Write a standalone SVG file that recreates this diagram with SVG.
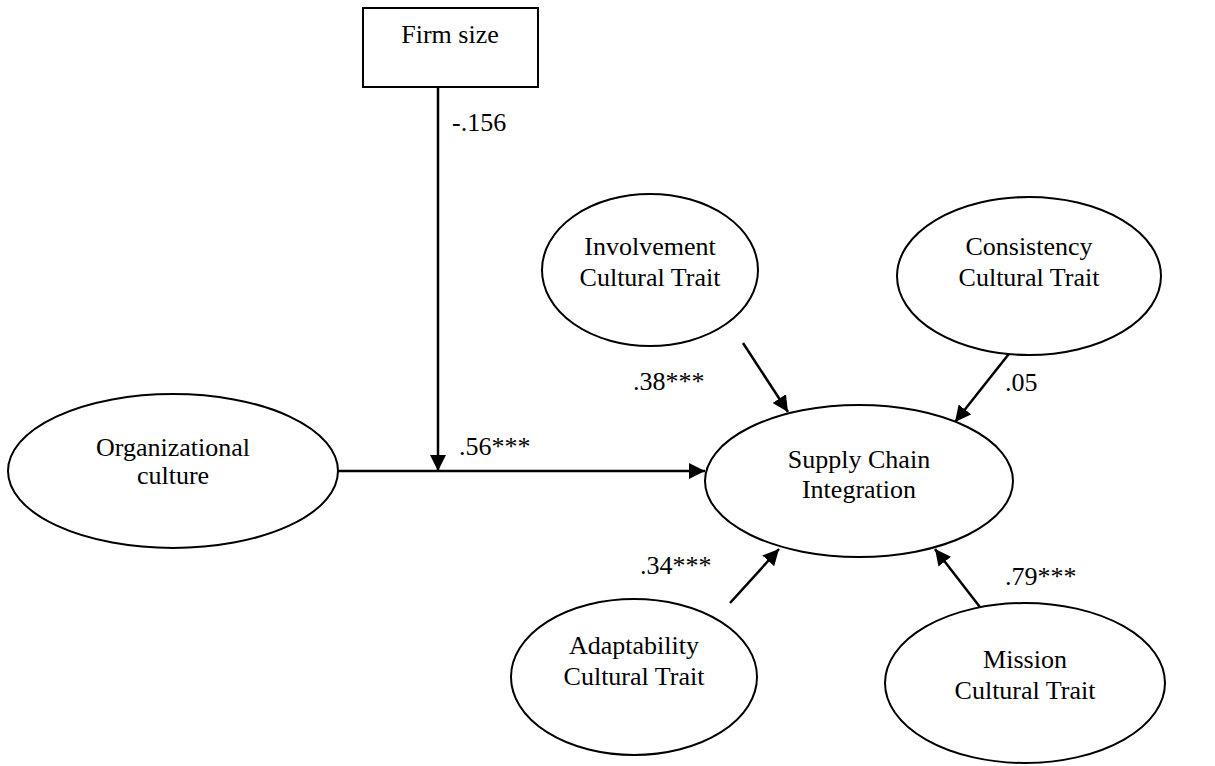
<svg xmlns="http://www.w3.org/2000/svg" width="1215" height="766" viewBox="0 0 1215 766">
<style>
.n{fill:#fff;stroke:#000;stroke-width:2}
.t{font-family:"Liberation Serif","Times New Roman",serif;font-size:26px;fill:#000;text-anchor:middle}
.l{font-family:"Liberation Serif","Times New Roman",serif;font-size:26px;fill:#000}
.c{stroke:#000;stroke-width:2.5;fill:none;marker-end:url(#ah)}
</style>
<defs>
<marker id="ah" markerUnits="userSpaceOnUse" markerWidth="18" markerHeight="16" refX="16" refY="8" orient="auto">
<path d="M0,0 L16,8 L0,16 Z" fill="#000"/>
</marker>
</defs>
<g id="connectors">
<line class="c" x1="438" y1="87" x2="438" y2="471"/>
<line class="c" x1="338" y1="471" x2="705" y2="471"/>
<line class="c" x1="743" y1="343" x2="788" y2="412"/>
<line class="c" x1="1012" y1="350" x2="955" y2="422"/>
<line class="c" x1="730" y1="603" x2="779" y2="549"/>
<line class="c" x1="983" y1="611" x2="935" y2="549"/>
</g>
<g id="labels">
<text class="l" x="452" y="131">-.156</text>
<text class="l" x="459" y="455">.56***</text>
<text class="l" x="633" y="390">.38***</text>
<text class="l" x="1005" y="391">.05</text>
<text class="l" x="640" y="574">.34***</text>
<text class="l" x="1005" y="585">.79***</text>
</g>
<g id="firm-size">
<rect class="n" x="363" y="8" width="175" height="79"/>
<text class="t" x="450" y="43">Firm size</text>
</g>
<g id="org-culture">
<ellipse class="n" cx="173" cy="471" rx="165" ry="77"/>
<text class="t" x="173" y="456">Organizational</text>
<text class="t" x="173" y="484">culture</text>
</g>
<g id="involvement">
<ellipse class="n" cx="650" cy="270" rx="108" ry="76"/>
<text class="t" x="650" y="255">Involvement</text>
<text class="t" x="650" y="286">Cultural Trait</text>
</g>
<g id="consistency">
<ellipse class="n" cx="1029" cy="276" rx="132" ry="79"/>
<text class="t" x="1029" y="255">Consistency</text>
<text class="t" x="1029" y="286">Cultural Trait</text>
</g>
<g id="sci">
<ellipse class="n" cx="859" cy="481" rx="154" ry="76"/>
<text class="t" x="859" y="468">Supply Chain</text>
<text class="t" x="859" y="498">Integration</text>
</g>
<g id="adaptability">
<ellipse class="n" cx="634" cy="677" rx="123" ry="78"/>
<text class="t" x="634" y="654">Adaptability</text>
<text class="t" x="634" y="685">Cultural Trait</text>
</g>
<g id="mission">
<ellipse class="n" cx="1025" cy="683" rx="140" ry="80"/>
<text class="t" x="1025" y="668">Mission</text>
<text class="t" x="1025" y="699">Cultural Trait</text>
</g>
</svg>
